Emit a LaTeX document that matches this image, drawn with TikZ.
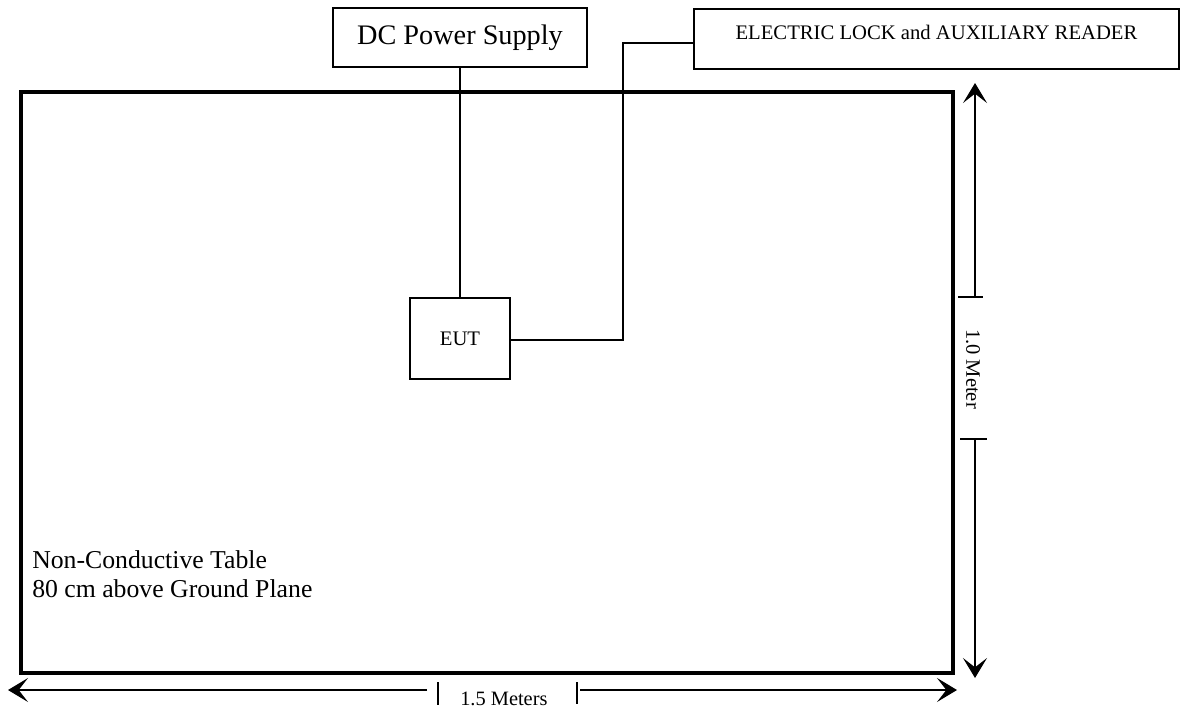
\documentclass[tikz,border=0pt]{standalone}
\usepackage{fontspec}
\setmainfont{Liberation Serif}
\usetikzlibrary{arrows.meta}
\tikzset{
  boxa/.style={draw, line width=1.5pt, inner sep=0pt, align=center},
  wire/.style={line width=1.3pt},
  dimline/.style={line width=0.9pt},
  dimarrow/.style={line width=0.9pt, -{Stealth[length=15pt, width=18pt, inset=7pt]}},
}
\begin{document}
\begin{tikzpicture}[x=0.75pt, y=-0.75pt]
\useasboundingbox (0,0) rectangle (1181,711);
% table
\node[draw, line width=2.4pt, minimum width=699pt, minimum height=435.75pt, inner sep=0pt] (table) at (487,382.5) {};
\node[anchor=base west, align=left, inner sep=0pt, font=\fontsize{19.3pt}{21.75pt}\selectfont] (tlab) at (32,597) {Non-Conductive Table\\80 cm above Ground Plane};
% boxes
\node[boxa, minimum width=190.5pt, minimum height=44.25pt, font=\fontsize{21.2pt}{24pt}\selectfont] (dc) at (460,37.5) {DC Power Supply};
\node[boxa, anchor=north west, minimum width=363.75pt, text height=22.5pt, text depth=22.5pt, font=\fontsize{15.5pt}{18pt}\selectfont] (lock) at (693,8) {ELECTRIC LOCK and AUXILIARY READER};
\node[boxa, minimum width=75pt, minimum height=60.75pt, font=\fontsize{15.5pt}{18pt}\selectfont] (eut) at (460,338.5) {EUT};
% connectors
\draw[wire] (dc.south -| eut.north) -- (eut.north);
\coordinate (bend1) at (623,340);
\coordinate (bend2) at (623,43);
\draw[wire] (eut.east |- bend1) -- (bend1) -- (bend2) -- (bend2 -| lock.west);
% vertical dimension
\node[rotate=-90, inner sep=0pt, font=\fontsize{15.4pt}{18pt}\selectfont] (mlab) at (973,369) {1.0 Meter};
\coordinate (vtop) at (975,83);
\coordinate (vbot) at (975,678);
\coordinate (vt1) at (975,297);
\coordinate (vt2) at (975,439);
\draw[dimline] (958,297) -- (983,297);
\draw[dimline] (960,439) -- (987,439);
\draw[dimarrow] (vt1) -- (vtop);
\draw[dimarrow] (vt2) -- (vbot);
% horizontal dimension
\node[anchor=base west, inner sep=0pt, font=\fontsize{15.3pt}{18pt}\selectfont] (hlab) at (460,705) {1.5 Meters};
\coordinate (hleft) at (8,690);
\coordinate (hright) at (957,690);
\draw[dimline] (438,682) -- (438,705);
\draw[dimline] (577,682) -- (577,704);
\draw[dimarrow] (427,690) -- (hleft);
\draw[dimarrow] (580,690) -- (hright);
\end{tikzpicture}
\end{document}
